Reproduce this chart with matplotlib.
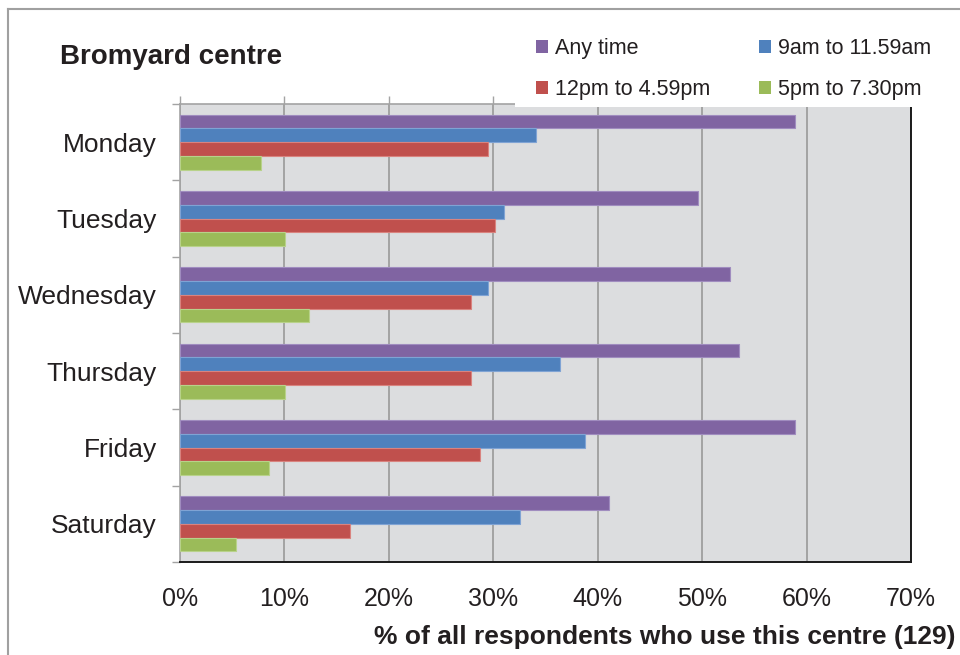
import matplotlib
matplotlib.use("Agg")
import matplotlib.pyplot as plt
from matplotlib.patches import Patch, Rectangle
from matplotlib.lines import Line2D
import numpy as np

plt.rcParams['font.family'] = ['Liberation Sans', 'DejaVu Sans']

# Share of respondents (%) using Bromyard centre, by day and time of day
days = ["Monday", "Tuesday", "Wednesday", "Thursday", "Friday", "Saturday"]
series_names = ["Any time", "9am to 11.59am", "12pm to 4.59pm", "5pm to 7.30pm"]
any_time = [58.9, 49.6, 52.7, 53.5, 58.9, 41.1]
morning = [34.1, 31.0, 29.5, 36.4, 38.8, 32.6]
afternoon = [29.5, 30.2, 27.9, 27.9, 28.7, 16.3]
evening = [7.8, 10.1, 12.4, 10.1, 8.5, 5.4]
x_ticks = [0, 10, 20, 30, 40, 50, 60, 70]

colors = ["#8064A2", "#4F81BD", "#C0504D", "#9BBB59"]
edges = ["#A08CBF", "#7FA3D4", "#D9837F", "#B8D28A"]
text_color = "#231F20"
grid_grey = "#A3A3A3"

W, H = 960, 655
fig = plt.figure(figsize=(W / 100, H / 100), dpi=100)

# axes placed in pixel terms
left, right, top, bottom = 180, 911, 104, 562
ax = fig.add_axes([left / W, 1 - bottom / H, (right - left) / W, (bottom - top) / H])
ax.set_facecolor("#DCDDDF")

series = [any_time, morning, afternoon, evening]
bar_h = 0.18
offsets = [-1.5 * bar_h, -0.5 * bar_h, 0.5 * bar_h, 1.5 * bar_h]
ypos = np.arange(len(days))
for vals, off, c, ec in zip(series, offsets, colors, edges):
    ax.barh(ypos + off, vals, height=bar_h, color=c, edgecolor=ec,
            linewidth=0.8, zorder=3)

ax.set_xlim(0, 70)
ax.set_ylim(len(days) - 0.5, -0.5)

ax.set_xticks(x_ticks)
ax.set_xticklabels([f"{v}%" for v in x_ticks])
ax.xaxis.grid(True, color=grid_grey, linewidth=1.4, zorder=1)
ax.set_axisbelow(True)
ax.tick_params(axis="x", bottom=False, top=True, labelbottom=True, labeltop=False,
               length=5.8, width=1.0, color=grid_grey, labelsize=18,
               labelcolor=text_color, pad=12)

ax.set_yticks(ypos)
ax.set_yticklabels(days)
ax.tick_params(axis="y", which="major", length=0, pad=16.5, labelsize=19,
               labelcolor=text_color)
ax.set_yticks(np.arange(-0.5, len(days), 1.0), minor=True)
ax.tick_params(axis="y", which="minor", length=5.8, width=1.0, color=grid_grey,
               direction="out")

ax.spines["left"].set_color(grid_grey)
ax.spines["left"].set_linewidth(1.2)
ax.spines["top"].set_color(grid_grey)
ax.spines["top"].set_linewidth(1.2)
for s in ("bottom", "right"):
    ax.spines[s].set_color("#1A1A1A")
    ax.spines[s].set_linewidth(1.4)

# outer chart frame
fx, fy = 8 / W, 1 - 9 / H
fig.add_artist(Line2D([fx, fx], [0, fy], transform=fig.transFigure,
                      color="#A0A0A0", linewidth=1.5))
fig.add_artist(Line2D([fx, 1], [fy, fy], transform=fig.transFigure,
                      color="#A0A0A0", linewidth=1.5))

# white legend panel overlapping the plot area
fig.add_artist(Rectangle((515 / W, 1 - 107 / H), (W - 515) / W, (107 - 13) / H,
                         transform=fig.transFigure, facecolor="white",
                         edgecolor="none", zorder=5))

handles = [Patch(facecolor=c, edgecolor="none") for c in colors]
order = [0, 2, 1, 3]
leg = fig.legend([handles[i] for i in order], [series_names[i] for i in order],
                 ncol=2, loc="upper left", bbox_to_anchor=(536 / W, 1 - 38 / H),
                 frameon=False, fontsize=15.5, handlelength=0.56, handleheight=0.56,
                 handletextpad=0.3, columnspacing=2.3, labelspacing=0.92,
                 borderpad=0, borderaxespad=0, labelcolor=text_color)
leg.set_zorder(6)

fig.text(60 / W, 1 - 57 / H, "Bromyard centre", fontsize=20, fontweight="bold",
         color=text_color, ha="left", va="center")
fig.text(955 / W, 1 - 637 / H, "% of all respondents who use this centre (129)",
         fontsize=19, fontweight="bold", color=text_color, ha="right", va="center")

fig.savefig("out.png", dpi=100, facecolor="white")
